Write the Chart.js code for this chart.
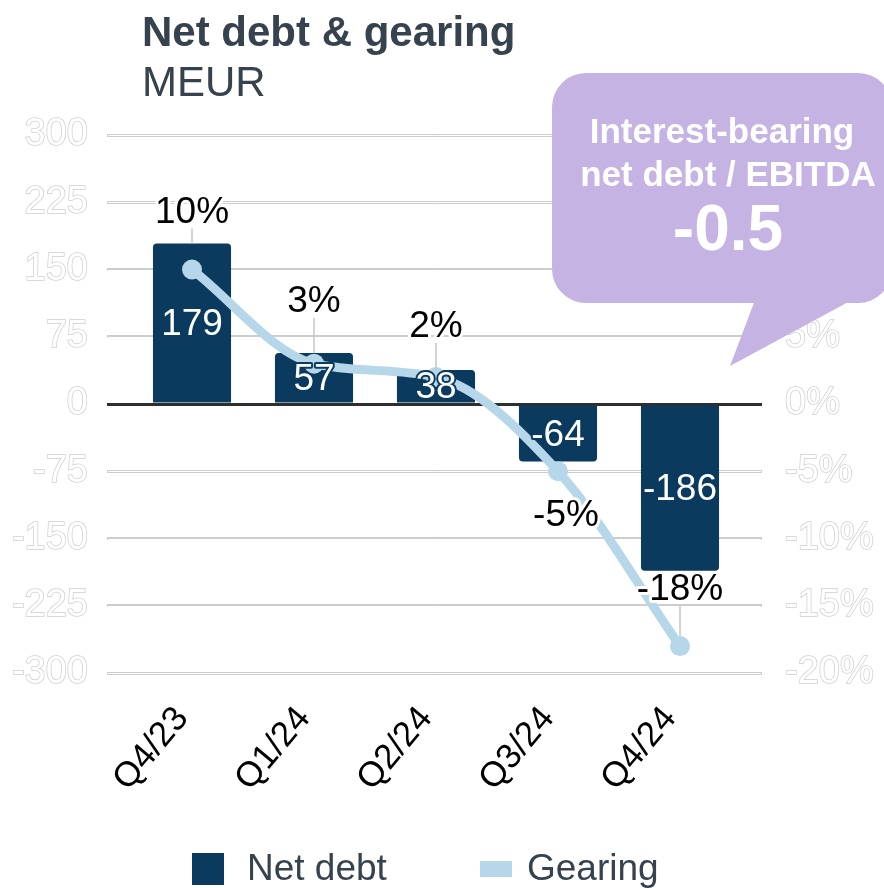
<!DOCTYPE html>
<html>
<head>
<meta charset="utf-8">
<title>Net debt & gearing</title>
<script src="https://cdn.jsdelivr.net/npm/chart.js@4.4.1/dist/chart.umd.min.js"></script>
<style>
    html, body { margin: 0; padding: 0; background: #ffffff; }
    #wrap { width: 884px; height: 888px; }
</style>
</head>
<body>
<div id="wrap"><canvas id="debtChart" width="884" height="888"></canvas></div>
<script>
// Quarterly figures
const quarters = ['Q4/23', 'Q1/24', 'Q2/24', 'Q3/24', 'Q4/24'];
const netDebt = [179, 57, 38, -64, -186];       // MEUR
const gearing = [10, 3, 2, -5, -18];            // %
const debtTicks = [300, 225, 150, 75, 0, -75, -150, -225, -300];
const gearingTicks = [20, 15, 10, 5, 0, -5, -10, -15, -20];
const ratioTitle = ['Interest-bearing', 'net debt / EBITDA'];
const ratioValue = -0.5;

const FONT = "'Liberation Sans', Arial, sans-serif";
const NAVY = '#0a3a5e';
const LIGHT_BLUE = '#b6d6ea';
const TEXT_GREY = '#36424d';
const GRID = '#cdcdcd';

// label nudges for the gearing percentages [dx, dy] from their anchor
const gearingLabelShift = [[0, -33], [0, -53], [0, -45], [8, 43], [0, -58]];

function haloText(ctx, text, x, y, fill, halo, width) {
    ctx.lineJoin = 'round';
    ctx.lineWidth = width;
    ctx.strokeStyle = halo;
    ctx.strokeText(text, x, y);
    ctx.fillStyle = fill;
    ctx.fillText(text, x, y);
}

const gridColor = c => (c.tick && c.tick.value === 0 ? '#2e2e2e' : GRID);

const decorPlugin = {
    id: 'decor',
    beforeDatasetsDraw(chart) {
        // hollow look for the light grid lines
        const { ctx } = chart;
        const y = chart.scales.y;
        ctx.save();
        ctx.strokeStyle = '#ffffff';
        ctx.lineWidth = 1;
        debtTicks.forEach(v => {
            if (v === 0) return;
            const py = Math.round(y.getPixelForValue(v)) + 0.5;
            ctx.beginPath();
            ctx.moveTo(y.right - 23, py);
            ctx.lineTo(chart.scales.y1.left + 20, py);
            ctx.stroke();
        });
        ctx.restore();
    },
    afterDatasetsDraw(chart) {
        const { ctx } = chart;
        const bars = chart.getDatasetMeta(0).data;
        const points = chart.getDatasetMeta(1).data;
        ctx.save();
        ctx.textAlign = 'center';
        ctx.textBaseline = 'middle';
        ctx.font = '37px ' + FONT;

        // net debt values inside the bars
        bars.forEach((bar, i) => {
            const cy = (bar.y + bar.base) / 2;
            haloText(ctx, String(netDebt[i]), bar.x, cy + 2, '#ffffff', NAVY, 4);
        });

        // gearing percentages with leader lines
        gearing.forEach((g, i) => {
            const pt = points[i];
            const bar = bars[i];
            const anchorY = g >= 0 ? Math.min(bar.y, pt.y) : pt.y;
            const [dx, dy] = gearingLabelShift[i];
            const lx = pt.x + dx;
            const ly = anchorY + dy;
            if (dy < 0) {
                ctx.strokeStyle = '#c4c4c4';
                ctx.lineWidth = 1.5;
                ctx.beginPath();
                ctx.moveTo(pt.x, ly + 18);
                ctx.lineTo(pt.x, g >= 0 ? anchorY : anchorY - 10);
                ctx.stroke();
            }
            haloText(ctx, g + '%', lx, ly + 2, '#000000', '#ffffff', 6);
        });
        ctx.restore();
    },
    afterDraw(chart) {
        const { ctx } = chart;
        ctx.save();

        // heading
        ctx.textAlign = 'left';
        ctx.textBaseline = 'alphabetic';
        ctx.fillStyle = TEXT_GREY;
        ctx.font = 'bold 42px ' + FONT;
        ctx.fillText('Net debt & gearing', 142, 46);
        ctx.font = '42px ' + FONT;
        ctx.fillText('MEUR', 142, 96);

        // speech bubble with the leverage ratio
        ctx.fillStyle = '#c5b3e3';
        ctx.beginPath();
        ctx.roundRect(552, 73, 340, 230, 34);
        ctx.fill();
        ctx.beginPath();
        ctx.moveTo(755, 300);
        ctx.lineTo(730, 366);
        ctx.lineTo(852, 300);
        ctx.closePath();
        ctx.fill();

        ctx.fillStyle = '#ffffff';
        ctx.textAlign = 'center';
        ctx.textBaseline = 'middle';
        ctx.font = 'bold 35px ' + FONT;
        ctx.fillText(ratioTitle[0], 722, 133);
        ctx.fillText(ratioTitle[1], 728, 176);
        ctx.font = 'bold 64px ' + FONT;
        ctx.fillText(ratioValue.toFixed(1), 728, 232);

        // legend
        ctx.textAlign = 'left';
        ctx.font = '37px ' + FONT;
        ctx.fillStyle = NAVY;
        ctx.fillRect(192, 853, 32, 32);
        ctx.fillStyle = TEXT_GREY;
        ctx.fillText('Net debt', 247, 870);
        ctx.fillStyle = LIGHT_BLUE;
        ctx.fillRect(480, 861, 32, 16);
        ctx.fillStyle = TEXT_GREY;
        ctx.fillText('Gearing', 527, 870);

        ctx.restore();
    }
};

const tickFont = { family: FONT, size: 38 };

new Chart(document.getElementById('debtChart'), {
    data: {
        labels: quarters,
        datasets: [
            {
                type: 'bar',
                label: 'Net debt',
                data: netDebt,
                yAxisID: 'y',
                backgroundColor: NAVY,
                borderRadius: 4,
                barPercentage: 0.64,
                categoryPercentage: 1,
                order: 2
            },
            {
                type: 'line',
                label: 'Gearing',
                data: gearing,
                yAxisID: 'y1',
                borderColor: LIGHT_BLUE,
                backgroundColor: LIGHT_BLUE,
                borderWidth: 9,
                pointRadius: 10,
                pointBorderWidth: 0,
                pointBackgroundColor: LIGHT_BLUE,
                cubicInterpolationMode: 'monotone',
                order: 1
            }
        ]
    },
    options: {
        responsive: false,
        devicePixelRatio: 1,
        animation: false,
        layout: { padding: { top: 135, left: 0, right: 0, bottom: 0 } },
        plugins: {
            legend: { display: false },
            tooltip: { enabled: false },
            title: { display: false }
        },
        scales: {
            x: {
                grid: { display: false },
                border: { display: false },
                ticks: {
                    color: '#000000',
                    font: { family: FONT, size: 35 },
                    minRotation: 50,
                    maxRotation: 50,
                    padding: 18,
                    labelOffset: -10
                },
                afterFit: s => { s.height = 215; }
            },
            y: {
                position: 'left',
                min: -300,
                max: 300,
                afterBuildTicks: s => { s.ticks = debtTicks.map(v => ({ value: v })); },
                grid: { color: gridColor, lineWidth: 3, tickLength: 24 },
                border: { display: false },
                ticks: {
                    font: tickFont,
                    color: '#ffffff',
                    textStrokeColor: '#cfcfcf',
                    textStrokeWidth: 1.5,
                    padding: 19
                },
                afterFit: s => { s.width = 131; }
            },
            y1: {
                position: 'right',
                min: -20,
                max: 20,
                afterBuildTicks: s => { s.ticks = gearingTicks.map(v => ({ value: v })); },
                grid: { drawOnChartArea: false, color: gridColor, lineWidth: 3, tickLength: 21 },
                border: { display: false },
                ticks: {
                    font: tickFont,
                    color: '#ffffff',
                    textStrokeColor: '#cfcfcf',
                    textStrokeWidth: 1.5,
                    padding: 23,
                    callback: v => v + '%'
                },
                afterFit: s => { s.width = 143; }
            }
        }
    },
    plugins: [decorPlugin]
});
</script>
</body>
</html>
